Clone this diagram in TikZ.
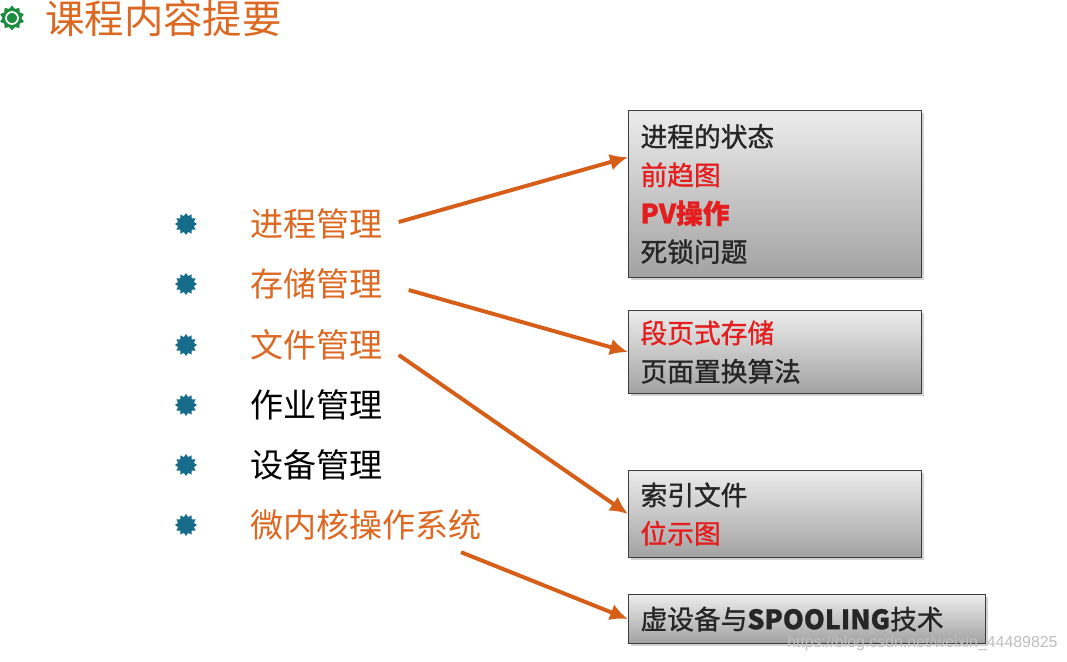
\documentclass[tikz,border=0pt]{standalone}
\usepackage{fontspec}
\newfontfamily\cjk{Noto Sans CJK SC}
\newfontfamily\cjkbox[FakeBold=1.1]{Noto Sans CJK SC}
\newfontfamily\urlfont{Liberation Sans}
\usetikzlibrary{shapes.geometric,arrows.meta,positioning,calc,shadows}
\definecolor{titleorange}{RGB}{220,104,34}
\definecolor{arroworange}{RGB}{214,94,24}
\definecolor{hotred}{RGB}{228,30,30}
\definecolor{bulletteal}{RGB}{22,108,138}
\definecolor{titlegreen}{RGB}{28,140,64}
\definecolor{boxborder}{RGB}{60,60,60}
\definecolor{boxtop}{RGB}{236,236,236}
\definecolor{boxbottom}{RGB}{162,162,162}
\begin{document}
\begin{tikzpicture}[
    x=0.025cm,y=-0.025cm,
    item/.style={anchor=west,inner sep=0pt,font=\cjk\fontsize{23.5}{28}\selectfont},
    dot/.style={star,star points=12,star point ratio=1.35,fill=bulletteal,minimum size=0.55cm,inner sep=0pt},
    infobox/.style={draw=boxborder,line width=0.8pt,top color=boxtop,bottom color=boxbottom,
        anchor=north west,align=left,text width=6.725cm,inner xsep=0.3cm,inner ysep=0pt,
        font=\cjkbox\fontsize{19}{27.3}\selectfont,text=black!85,
        drop shadow={shadow xshift=0.07cm,shadow yshift=-0.07cm,opacity=0.35}},
    link/.style={draw=arroworange,line width=2.8pt,-{Latex[length=0.45cm,width=0.42cm]}},
]
    \useasboundingbox[fill=white] (0,0) rectangle (1067,662);

    % title
    \node[star,star points=10,star point ratio=1.3,fill=titlegreen,minimum size=0.62cm,inner sep=0pt] (logo) at (12,18) {};
    \node[circle,draw=white,line width=1.2pt,fill=titlegreen,minimum size=0.3cm,inner sep=0pt] (logohub) at (logo) {};
    \node[anchor=west,inner sep=0pt,font=\cjk\fontsize{28}{32}\selectfont,text=titleorange] (title) at (45,18) {课程内容提要};

    % list of topics
    \node[item,text=titleorange] (proc) at (250,224) {进程管理};
    \node[item,text=titleorange] (mem) at (250,284) {存储管理};
    \node[item,text=titleorange] (file) at (250,345) {文件管理};
    \node[item] (job) at (250,405) {作业管理};
    \node[item] (dev) at (250,465) {设备管理};
    \node[item,text=titleorange] (micro) at (250,525) {微内核操作系统};

    \node[dot] (dproc) at (186,224) {};
    \node[dot] (dmem) at (186,284) {};
    \node[dot] (dfile) at (186,345) {};
    \node[dot] (djob) at (186,405) {};
    \node[dot] (ddev) at (186,465) {};
    \node[dot] (dmicro) at (186,525) {};

    % detail boxes
    \node[infobox,minimum height=4.175cm] (procbox) at (628,110)
        {进程的状态\\\textcolor{hotred}{前趋图}\\\textcolor{hotred}{\bfseries PV操作}\\死锁问题};
    \node[infobox,minimum height=2.075cm] (membox) at (628,310)
        {\textcolor{hotred}{段页式存储}\\页面置换算法};
    \node[infobox,minimum height=2.175cm] (filebox) at (628,470)
        {索引文件\\\textcolor{hotred}{位示图}};
    \node[infobox,minimum height=1.225cm,text width=8.325cm] (devbox) at (628,594)
        {虚设备与{\bfseries SPOOLING}技术};

    % arrows
    \coordinate (procin) at ($(procbox.north west)!0.28!(procbox.south west)$);
    \draw[link] ([xshift=0.4cm,yshift=0.05cm]proc.east) -- (procin);
    \draw[link] ([xshift=0.65cm,yshift=-0.15cm]mem.east) -- (membox.west);
    \draw[link] ([xshift=0.4cm,yshift=-0.25cm]file.east) -- (filebox.west);
    \draw[link] ([xshift=-0.52cm,yshift=-0.68cm]micro.east) -- (devbox.west);

    \node[anchor=west,inner sep=0pt,font=\urlfont\fontsize{11.3}{13}\selectfont,text=black!25] (mark) at (787,643) {https://blog.csdn.net/weixin\_44489825};
\end{tikzpicture}
\end{document}
